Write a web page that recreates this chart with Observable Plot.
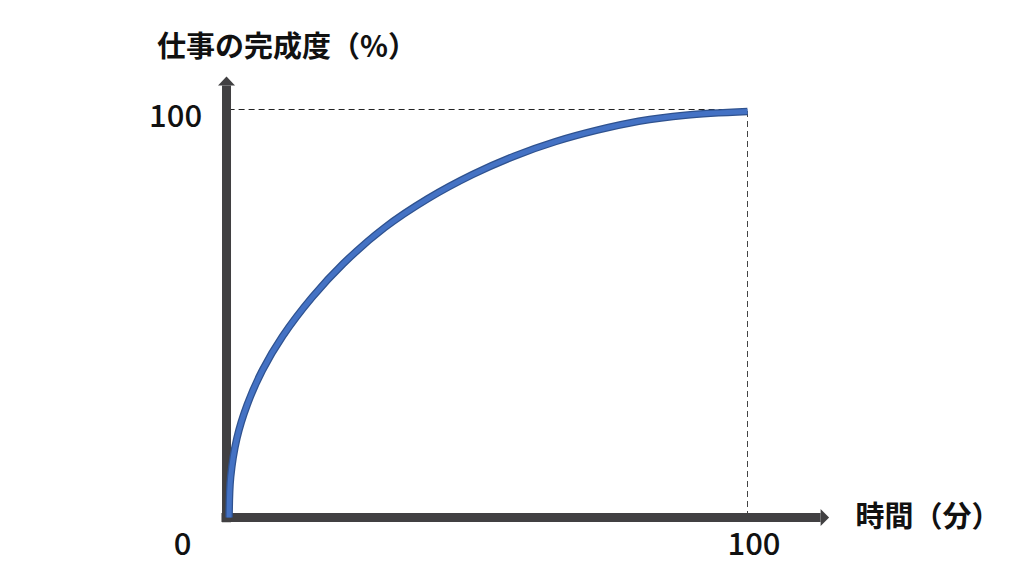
<!DOCTYPE html>
<html>
<head>
<meta charset="utf-8">
<script src="https://cdn.jsdelivr.net/npm/d3@7"></script>
<script src="https://cdn.jsdelivr.net/npm/@observablehq/plot@0.6"></script>
<style>
  html, body { margin: 0; padding: 0; background: #ffffff; }
  #chart { width: 1024px; height: 576px; }
</style>
</head>
<body>
<div id="chart"></div>
<script>
// ---- data ----
const timeMinutes = [0, 0.3, 1.5, 3.5, 6.4, 10.3, 16, 22, 30, 38.3, 47, 55, 63, 71, 79, 88, 100];
const completion  = [0, 10, 19.5, 27.8, 36.2, 44.6, 54.2, 62.5, 71.4, 78.5, 84.5, 89, 92.6, 95.4, 97.6, 99.1, 100];
const xTicks = [100];
const xTickLabels = ["100"];
const yTicks = [100];
const yTickLabels = ["100"];
const originLabel = "0";
const yTitle = "仕事の完成度（%）";
const xTitle = "時間（分）";

const curve = timeMinutes.map((t, i) => ({t, c: completion[i]}));
const endPoint = curve[curve.length - 1];

const font = "'Noto Sans CJK JP', 'Noto Sans', sans-serif";
const axisColor = "#414042";

// right-pointing and up-pointing filled arrowheads (base at the point)
const arrowRight = {draw(ctx) { ctx.moveTo(0, -8.5); ctx.lineTo(8.5, 0); ctx.lineTo(0, 8.5); ctx.closePath(); }};
const arrowUp = {draw(ctx) { ctx.moveTo(-8.5, 0); ctx.lineTo(0, -9); ctx.lineTo(8.5, 0); ctx.closePath(); }};

const chart = Plot.plot({
  width: 1024,
  height: 576,
  marginLeft: 228.6,
  marginRight: 277,
  marginTop: 111,
  marginBottom: 59,
  style: {fontFamily: font, background: "#ffffff"},
  x: {domain: [0, 100], axis: null},
  y: {domain: [0, 100], axis: null},
  marks: [
    // dashed guides to the end point
    Plot.ruleY([endPoint], {y: "c", x1: 0, x2: "t", stroke: "#222", strokeWidth: 1, strokeDasharray: "6,4", dy: -2}),
    Plot.ruleX([endPoint], {x: "t", y1: 0, y2: "c", stroke: "#444", strokeWidth: 1, strokeDasharray: "6,4"}),
    // axes with arrowheads
    Plot.link([0], {x1: -1.47, x2: 114.1, y1: 0, y2: 0, stroke: axisColor, strokeWidth: 9, strokeLinecap: "butt", clip: false}),
    Plot.link([0], {x1: -0.5, x2: -0.5, y1: -1.2, y2: 106.4, stroke: axisColor, strokeWidth: 9, strokeLinecap: "butt", clip: false}),
    Plot.dot([0], {x: 114.1, y: 0, symbol: arrowRight, r: 5, fill: axisColor, stroke: "none"}),
    Plot.dot([0], {x: -0.5, y: 106.4, symbol: arrowUp, r: 5, fill: axisColor, stroke: "none"}),
    // the curve: dark outline + blue fill
    Plot.line(curve, {x: "t", y: "c", curve: "catmull-rom", stroke: "#2F528F", strokeWidth: 7.5, strokeLinecap: "butt"}),
    Plot.line(curve, {x: "t", y: "c", curve: "catmull-rom", stroke: "#4472C4", strokeWidth: 5, strokeLinecap: "butt"}),
    // tick labels
    Plot.text(yTicks, {x: 0, y: d => d, text: (d, i) => yTickLabels[i], textAnchor: "end", dx: -27, dy: 6, fontSize: 31, fontWeight: 500, fill: "#111"}),
    Plot.text(xTicks, {x: d => d, y: 0, text: (d, i) => xTickLabels[i], textAnchor: "middle", dx: 6.5, dy: 28, fontSize: 31, fontWeight: 500, fill: "#111"}),
    Plot.text([originLabel], {x: 0, y: 0, text: d => d, textAnchor: "middle", dx: -46.6, dy: 28, fontSize: 31, fontWeight: 500, fill: "#111"}),
    // axis titles
    Plot.text([yTitle], {frameAnchor: "top-left", lineAnchor: "middle", text: d => d, textAnchor: "start", dx: -72, dy: -64, fontSize: 29, fontWeight: "bold", fill: "#111"}),
    Plot.text([xTitle], {frameAnchor: "bottom-right", lineAnchor: "middle", text: d => d, textAnchor: "start", dx: 108, dy: 0, fontSize: 29, fontWeight: "bold", fill: "#111"})
  ]
});
document.getElementById("chart").appendChild(chart);
</script>
</body>
</html>
